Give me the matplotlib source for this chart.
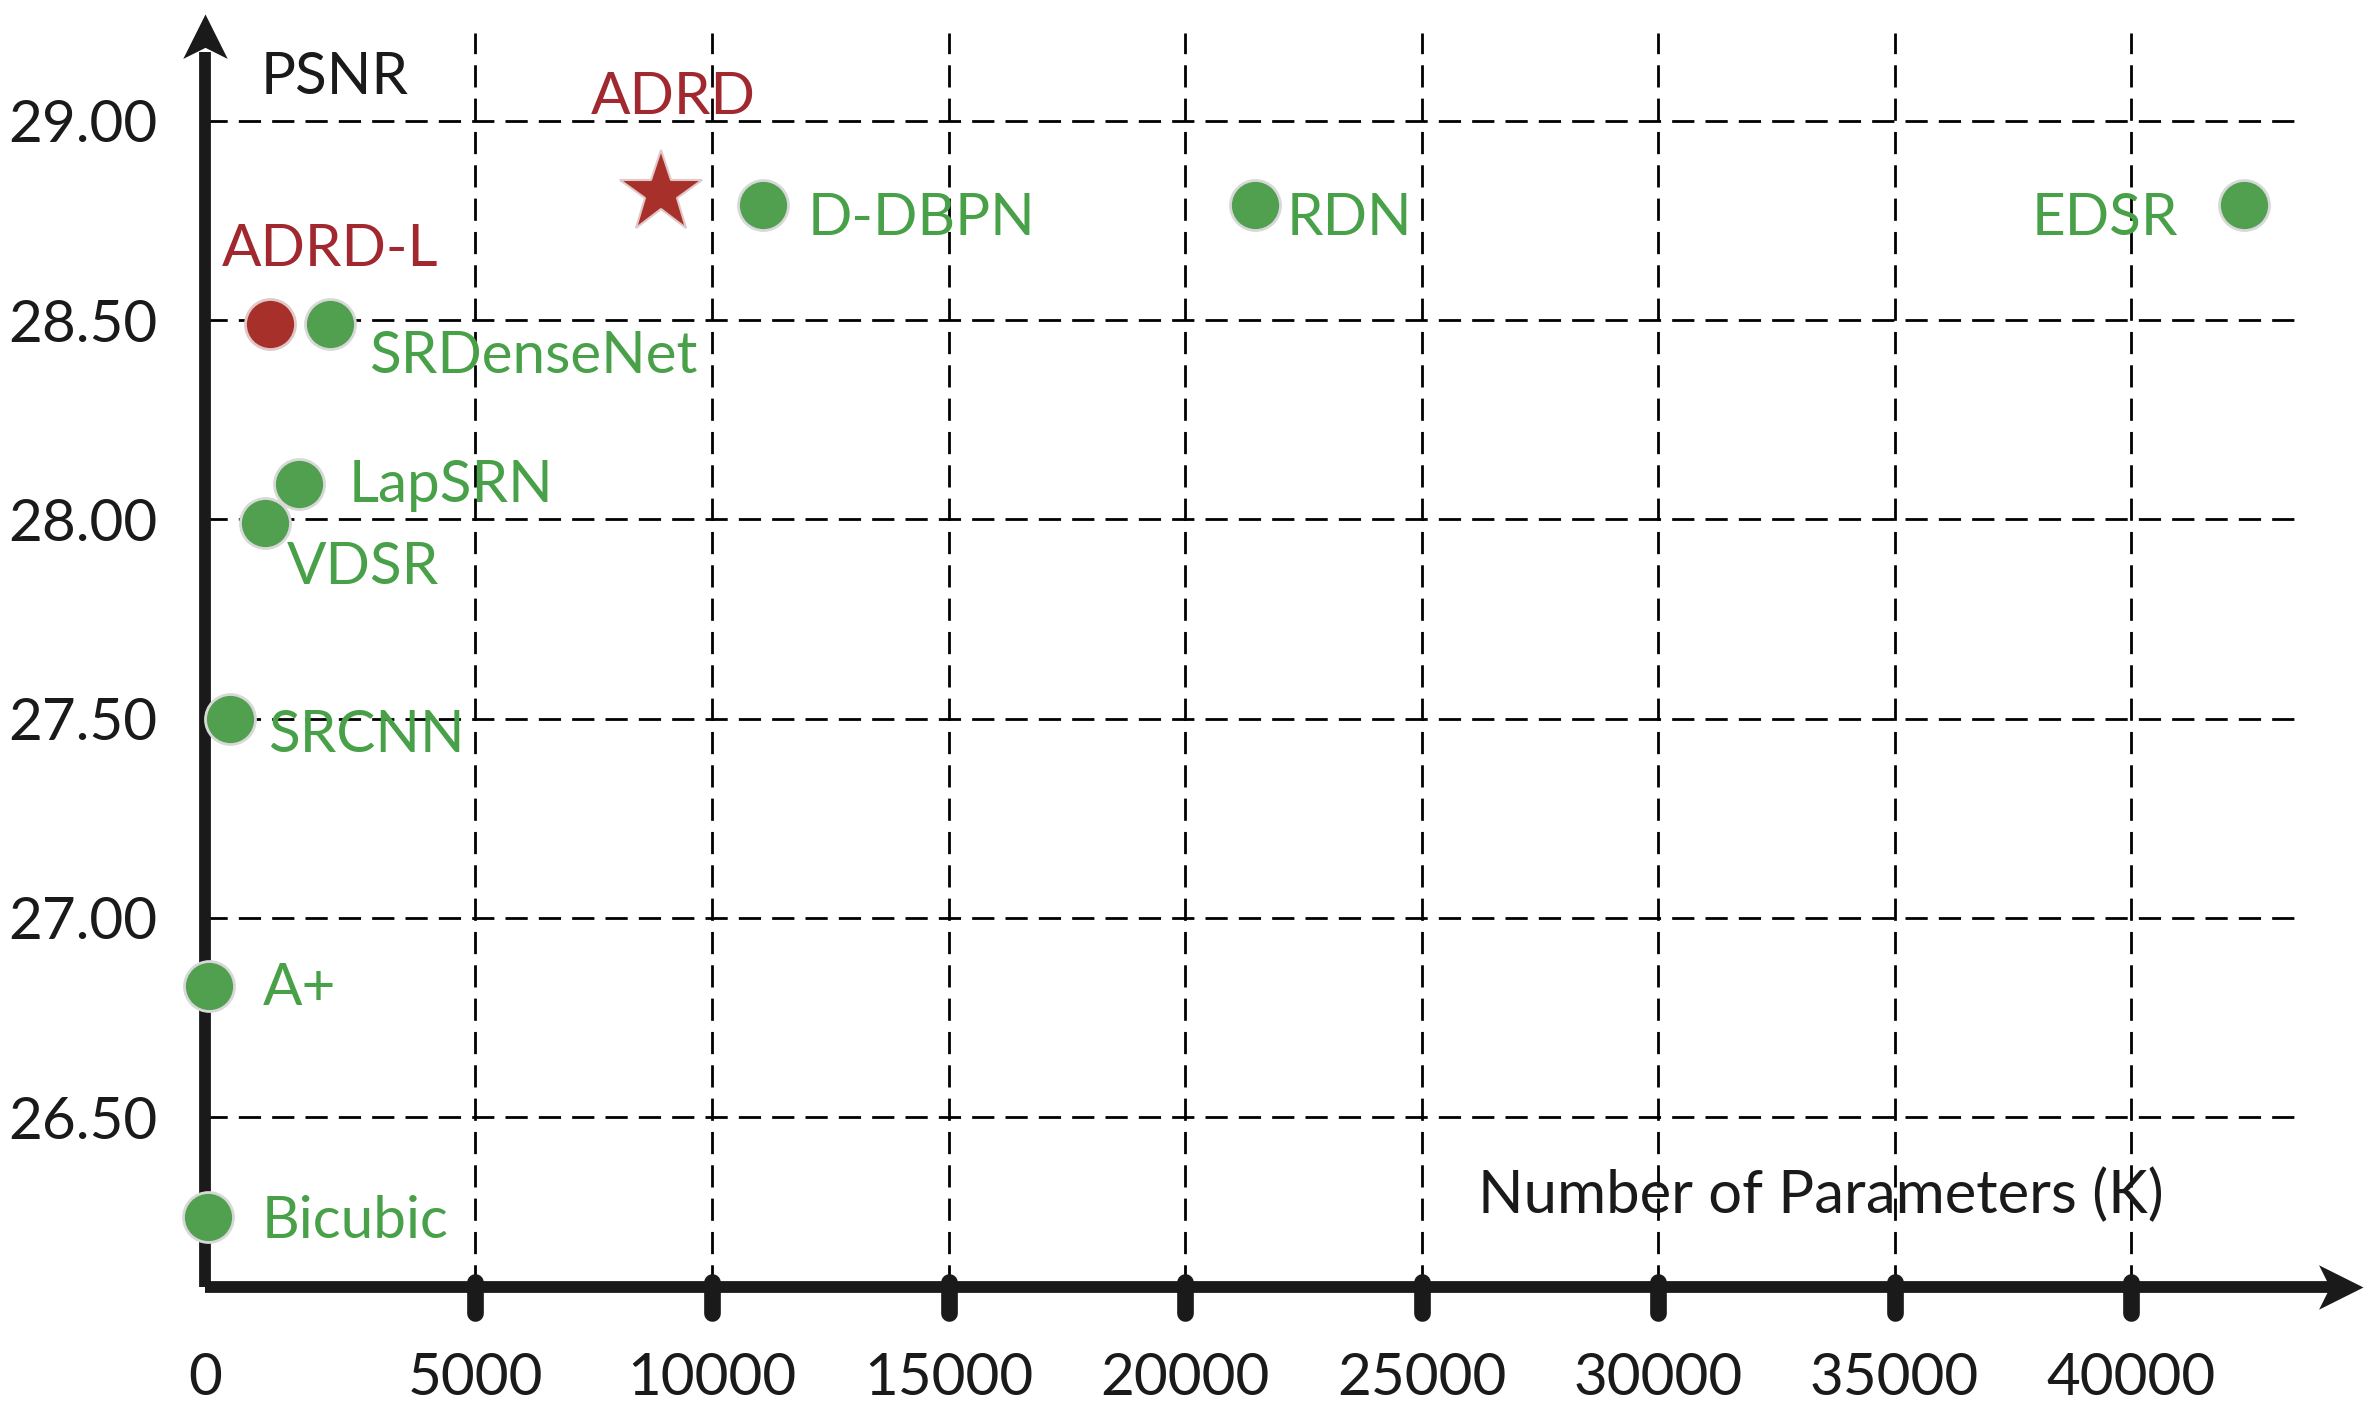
import matplotlib
matplotlib.use("Agg")
import matplotlib.pyplot as plt
from matplotlib.path import Path

plt.rcParams['font.family'] = ['Lato', 'DejaVu Sans']

# methods, parameters (K) and PSNR
names = ["Bicubic", "A+", "SRCNN", "VDSR", "LapSRN", "SRDenseNet",
         "D-DBPN", "RDN", "EDSR"]
params = [60, 90, 540, 1280, 1980, 2640, 11800, 22200, 43100]
psnr = [26.25, 26.83, 27.50, 27.99, 28.09, 28.49, 28.79, 28.79, 28.79]

ours_names = ["ADRD-L", "ADRD"]
ours_params = [1370, 9650]
ours_psnr = [28.49, 28.82]

# label offsets from the marker (pixels) and alignment
label_off = {
    "Bicubic": (54, -5, "left"), "A+": (54, -3, "left"),
    "SRCNN": (38, -17, "left"), "VDSR": (21, -44, "left"),
    "LapSRN": (50, -2, "left"), "SRDenseNet": (39, -32, "left"),
    "D-DBPN": (45, -14, "left"), "RDN": (32, -14, "left"),
    "EDSR": (-66, -14, "right"),
    "ADRD-L": (-48, 75, "left"), "ADRD": (12, 95, "center"),
}

y_ticks = [26.5, 27.0, 27.5, 28.0, 28.5, 29.0]
x_tick_labels = ["5000", "10000", "15000", "20000", "25000",
                 "30000", "35000", "40000"]
GRID_SHIFT = 720  # the drawn grid sits a bit right of the round values
x_grid = [5000 * (i + 1) + GRID_SHIFT for i in range(len(x_tick_labels))]

GREEN = "#50a050"
GREEN_TXT = "#48a048"
RED = "#a8302a"
RED_TXT = "#a0282e"
FS = 42

fig = plt.figure(figsize=(23.66, 14.04), dpi=100)
ax = fig.add_axes([0.0866, 0.0833, 0.9121, 0.9067])
ax.set_xlim(0, 45620)
ax.set_ylim(26.074, 29.268)
for s in ax.spines.values():
    s.set_visible(False)

# dashed grid
for yv in y_ticks:
    ax.axhline(yv, xmin=0, xmax=0.968, color="black", lw=2,
               linestyle=(0, (8, 4)), zorder=1)
for xv in x_grid:
    ax.axvline(xv, ymin=0, ymax=0.985, color="black", lw=2,
               linestyle=(0, (8, 4)), zorder=1)

# axes with arrows
ax.plot([0, 0.985], [0, 0], transform=ax.transAxes, color="#1a1a1a",
        lw=8.5, clip_on=False, solid_capstyle="butt", zorder=3)
ax.plot([0, 0], [0, 0.97], transform=ax.transAxes, color="#1a1a1a",
        lw=8.5, clip_on=False, solid_capstyle="butt", zorder=3)
head_r = Path([(0, 0), (-1, 0.5), (-0.75, 0), (-1, -0.5), (0, 0)],
              [Path.MOVETO, Path.LINETO, Path.LINETO, Path.LINETO,
               Path.CLOSEPOLY])
head_u = Path([(0, 0), (0.5, -1), (0, -0.75), (-0.5, -1), (0, 0)],
              [Path.MOVETO, Path.LINETO, Path.LINETO, Path.LINETO,
               Path.CLOSEPOLY])
ax.plot([1], [0], transform=ax.transAxes, marker=head_r, ms=64,
        color="#1a1a1a", mew=0, clip_on=False, zorder=3)
ax.plot([0], [1], transform=ax.transAxes, marker=head_u, ms=64,
        color="#1a1a1a", mew=0, clip_on=False, zorder=3)

# bold tick marks on the x axis
for xv in x_grid:
    ax.plot([xv, xv], [0.004, -0.02], transform=ax.get_xaxis_transform(),
            color="#1a1a1a", lw=12, solid_capstyle="round",
            clip_on=False, zorder=3)

ax.set_xticks([0] + x_grid)
ax.set_xticklabels(["0"] + x_tick_labels)
ax.set_yticks(y_ticks)
ax.set_yticklabels(["%.2f" % v for v in y_ticks])
ax.tick_params(axis="both", length=0, labelsize=FS, colors="#1a1a1a")
ax.tick_params(axis="x", pad=47)
ax.tick_params(axis="y", pad=34)

# methods
ax.plot(params, psnr, "o", ms=36, color=GREEN, mec="#d8d8d8", mew=2,
        clip_on=False, zorder=4)
ax.plot(ours_params[:1], ours_psnr[:1], "o", ms=36, color=RED,
        mec="#e0c8c8", mew=2, clip_on=False, zorder=4)
ax.plot(ours_params[1:], ours_psnr[1:], "*", ms=62, color=RED,
        mec="#e0c8c8", mew=1.5, clip_on=False, zorder=4)

for n, xv, yv in zip(names, params, psnr):
    dx, dy, ha = label_off[n]
    ax.annotate(n, (xv, yv), xytext=(dx, dy), textcoords="offset pixels",
                ha=ha, va="center", fontsize=FS, color=GREEN_TXT, zorder=5)
for n, xv, yv in zip(ours_names, ours_params, ours_psnr):
    dx, dy, ha = label_off[n]
    ax.annotate(n, (xv, yv), xytext=(dx, dy), textcoords="offset pixels",
                ha=ha, va="center", fontsize=FS, color=RED_TXT, zorder=5)

ax.text(0.026, 0.95, "PSNR", transform=ax.transAxes, fontsize=FS,
        color="#1a1a1a", va="center", ha="left")
ax.text(0.59, 0.072, "Number of Parameters (K)", transform=ax.transAxes,
        fontsize=FS + 1, color="#1a1a1a", va="center", ha="left")

fig.savefig("out.png", dpi=100)
